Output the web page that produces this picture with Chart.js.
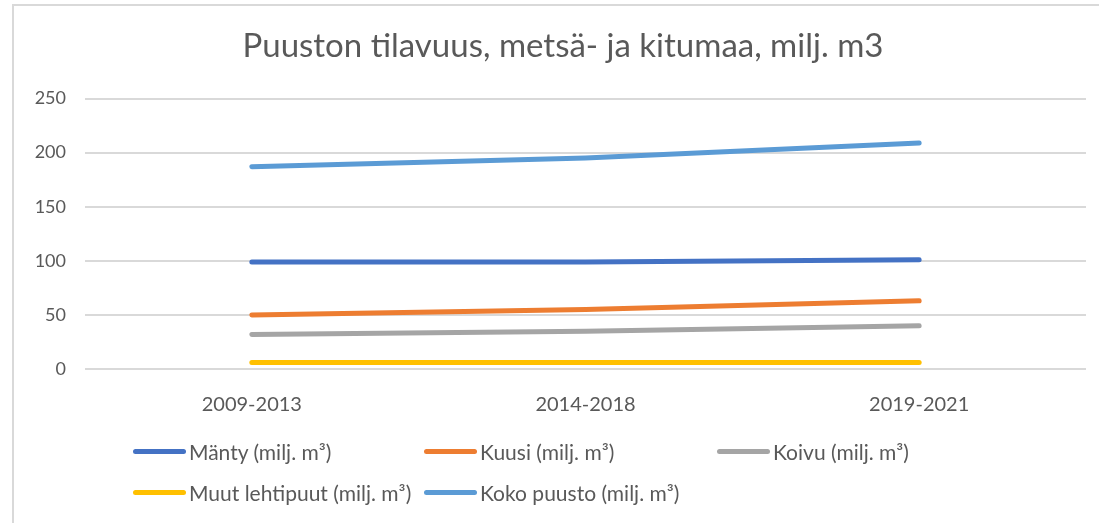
<!DOCTYPE html>
<html>
<head>
<meta charset="utf-8">
<script src="https://cdn.jsdelivr.net/npm/chart.js@4/dist/chart.umd.min.js"></script>
<style>
  html, body { margin: 0; padding: 0; background: #fff; overflow: hidden; }
  #wrap { position: relative; width: 1099px; height: 523px; overflow: hidden; }
  #frame {
    position: absolute; left: 12px; top: 4px; width: 1200px; height: 600px;
    border-left: 2px solid #d9d9d9; border-top: 2px solid #d9d9d9;
  }
  #chartBox { position: absolute; left: 0; top: 0; width: 1126px; height: 523px; }
  .legItem {
    position: absolute; height: 26px; display: flex; align-items: center;
    font-family: Lato, sans-serif; font-size: 21px; color: #595959; white-space: nowrap;
  }
  .legLine { width: 53px; height: 5px; border-radius: 3px; margin-right: 3px; }
</style>
</head>
<body>
<div id="wrap">
  <div id="frame"></div>
  <div id="chartBox"><canvas id="volumeChart"></canvas></div>
  <div id="legend"></div>
</div>
<script>
// data
const periods = ["2009-2013", "2014-2018", "2019-2021"];
const seriesNames = [
  "Mänty (milj. m³)",
  "Kuusi (milj. m³)",
  "Koivu (milj. m³)",
  "Muut lehtipuut (milj. m³)",
  "Koko puusto (milj. m³)",
];
const manty = [99, 99, 101];
const kuusi = [50, 55, 63];
const koivu = [32, 35, 40];
const muut = [6, 6, 6];
const koko = [187, 195, 209];
const yTicks = [0, 50, 100, 150, 200, 250];

const colors = ["#4472C4", "#ED7D31", "#A5A5A5", "#FFC000", "#5B9BD5"];
const values = [manty, kuusi, koivu, muut, koko];

const datasets = seriesNames.map((name, i) => ({
  label: name,
  data: values[i],
  yAxisID: "y",
  borderColor: colors[i],
  backgroundColor: colors[i],
  borderWidth: 5,
  borderCapStyle: "round",
  borderJoinStyle: "round",
  pointRadius: 0,
  pointHoverRadius: 0,
  tension: 0,
  fill: false,
}));

var ctx = document.getElementById("volumeChart").getContext("2d");
var volumeChart = new Chart(ctx, {
  type: "line",
  data: { labels: periods, datasets: datasets },
  options: {
    responsive: true,
    maintainAspectRatio: false,
    animation: false,
    layout: { padding: 0 },
    plugins: {
      legend: { display: false },
      tooltip: { enabled: false },
      title: {
        display: true,
        text: "Puuston tilavuus, metsä- ja kitumaa, milj. m3",
        color: "#595959",
        font: { family: "Lato", size: 33, weight: "normal" },
        padding: { top: 27, bottom: 32 },
      },
    },
    scales: {
      x: {
        offset: true,
        grid: { display: false, drawTicks: false },
        border: { display: false },
        ticks: {
          color: "#595959",
          font: { family: "Lato", size: 20 },
          padding: 24,
        },
        afterFit: (scale) => { scale.width = scale.width; scale.height = 154; },
      },
      y: {
        min: 0,
        max: 250,
        afterBuildTicks: (scale) => { scale.ticks = yTicks.map((v) => ({ value: v })); },
        grid: { color: "#d9d9d9", lineWidth: 2, drawTicks: false },
        border: { display: false },
        ticks: {
          color: "#595959",
          font: { family: "Lato", size: 18 },
          padding: 19,
        },
        afterFit: (scale) => { scale.width = 85; },
      },
      // empty right-hand space of the chart (chart frame runs past the picture)
      yRight: {
        position: "right",
        min: 0,
        max: 250,
        grid: { display: false, drawTicks: false },
        border: { display: false },
        ticks: { display: false },
        afterFit: (scale) => { scale.width = 40; },
      },
    },
  },
});

// legend laid out in three columns like the original
const legCols = [133, 424, 717];
const legRows = [451, 492];
const legend = document.getElementById("legend");
seriesNames.forEach((name, i) => {
  const item = document.createElement("div");
  item.className = "legItem";
  item.style.left = legCols[i % 3] + "px";
  item.style.top = (legRows[Math.floor(i / 3)] - 13) + "px";
  const line = document.createElement("span");
  line.className = "legLine";
  line.style.background = colors[i];
  const txt = document.createElement("span");
  txt.textContent = name;
  item.appendChild(line);
  item.appendChild(txt);
  legend.appendChild(item);
});
</script>
</body>
</html>
